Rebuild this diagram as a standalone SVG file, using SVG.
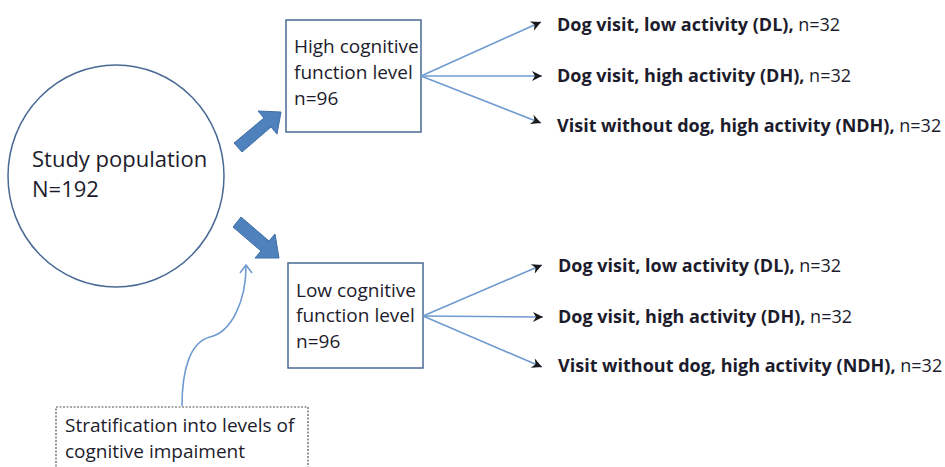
<svg xmlns="http://www.w3.org/2000/svg" width="945" height="467" viewBox="0 0 945 467">
<style>
text{font-family:"Open Sans","Liberation Sans",sans-serif;fill:#1c1c2c}
.box{fill:#fff;stroke:#4a6a94;stroke-width:1.5}
.fan{fill:none;stroke:#6f9bd0;stroke-width:1.6}
.blk{fill:#4f81bd;stroke:#3f6ea6;stroke-width:1}
.lbl{font-size:18px}
.bx{font-size:19px}
.b{font-weight:bold}
</style>
<defs>
<marker id="chev" viewBox="0 0 12 12" refX="11" refY="6" markerWidth="12" markerHeight="12" markerUnits="userSpaceOnUse" orient="auto">
<path d="M1,1 L11,6 L1,11 L4,6 Z" fill="#1a1a1a"/>
</marker>
</defs>
<g id="study-population">
<ellipse cx="116" cy="176" rx="108" ry="111" fill="#fff" stroke="#4a6a94" stroke-width="1.5"/>
<text x="32" y="167" font-size="22">Study population</text>
<text x="32" y="197" font-size="22">N=192</text>
</g>
<g id="high-box">
<rect class="box" x="286" y="20" width="135" height="112"/>
<text x="294" y="53" class="bx">High cognitive</text>
<text x="294" y="79" class="bx">function level</text>
<text x="294" y="105" class="bx">n=96</text>
</g>
<g id="low-box">
<rect class="box" x="288" y="263" width="135" height="105"/>
<text x="296" y="297" class="bx">Low cognitive</text>
<text x="296" y="322" class="bx">function level</text>
<text x="296" y="348" class="bx">n=96</text>
</g>
<g id="stratification">
<rect x="56" y="407" width="252" height="70" fill="#fff" stroke="#555" stroke-width="1.2" stroke-dasharray="2,1.5"/>
<text x="65" y="432" class="bx">Stratification into levels of</text>
<text x="65" y="458" class="bx">cognitive impaiment</text>
</g>
<g id="high-dl"><text x="557" y="31" class="lbl"><tspan class="b">Dog visit, low activity (DL),</tspan> n=32</text></g>
<g id="high-dh"><text x="557" y="82" class="lbl"><tspan class="b">Dog visit, high activity (DH),</tspan> n=32</text></g>
<g id="high-ndh"><text x="557" y="132" class="lbl"><tspan class="b">Visit without dog, high activity (NDH),</tspan> n=32</text></g>
<g id="low-dl"><text x="558" y="272" class="lbl"><tspan class="b">Dog visit, low activity (DL),</tspan> n=32</text></g>
<g id="low-dh"><text x="558" y="323" class="lbl"><tspan class="b">Dog visit, high activity (DH),</tspan> n=32</text></g>
<g id="low-ndh"><text x="558" y="372" class="lbl"><tspan class="b">Visit without dog, high activity (NDH),</tspan> n=32</text></g>
<g id="connectors">
<path class="blk" d="M234,143 L264,118 L258,111 L281,112 L277,134 L271,127 L242,152 Z"/>
<path class="blk" d="M241,217 L269,241 L275,234 L279,258 L255,258 L261,251 L233,227 Z"/>
<line class="fan" x1="421" y1="76" x2="541" y2="22" marker-end="url(#chev)"/>
<line class="fan" x1="421" y1="76" x2="542" y2="76" marker-end="url(#chev)"/>
<line class="fan" x1="421" y1="76" x2="541" y2="123" marker-end="url(#chev)"/>
<line class="fan" x1="423" y1="316" x2="542" y2="265" marker-end="url(#chev)"/>
<line class="fan" x1="423" y1="316" x2="543" y2="317" marker-end="url(#chev)"/>
<line class="fan" x1="423" y1="316" x2="542" y2="367" marker-end="url(#chev)"/>
<path class="fan" d="M182,406 C182,370 190,342 210,337 C232,332 246,300 246,266"/>
<path d="M240,273 L246,265 L252,273" fill="none" stroke="#6f9bd0" stroke-width="1.6"/>
</g>
</svg>
